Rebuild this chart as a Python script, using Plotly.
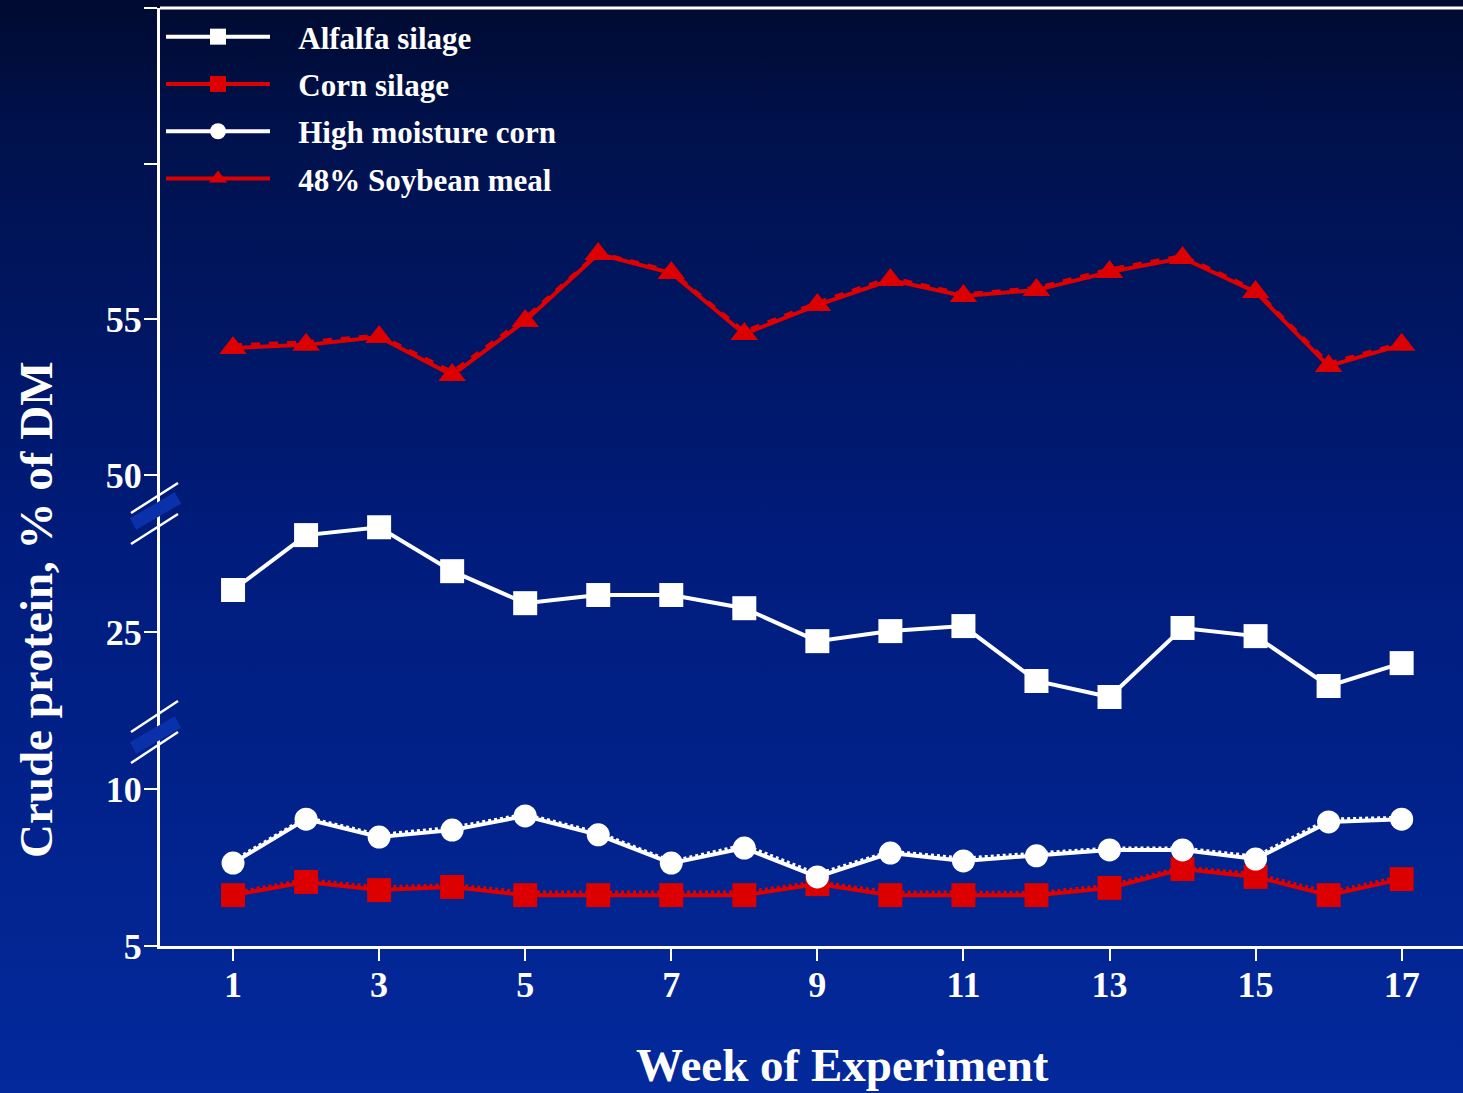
import base64
import plotly.graph_objects as go

# ---------------- data ----------------
weeks = list(range(1, 18))
alfalfa = [26.34, 28.09, 28.34, 26.94, 25.92, 26.18, 26.18, 25.76, 24.71, 25.03, 25.19, 23.44, 22.93, 25.13, 24.87, 23.28, 24.01]
corn_silage = [6.62, 7.04, 6.78, 6.88, 6.62, 6.62, 6.62, 6.62, 6.97, 6.62, 6.62, 6.62, 6.85, 7.45, 7.20, 6.62, 7.13]
corn_silage_2 = [6.70, 7.12, 6.88, 6.96, 6.72, 6.72, 6.72, 6.72, 7.05, 6.72, 6.72, 6.70, 6.94, 7.52, 7.30, 6.72, 7.22]
hmc = [7.64, 9.04, 8.47, 8.69, 9.14, 8.54, 7.64, 8.12, 7.20, 7.96, 7.71, 7.87, 8.06, 8.06, 7.77, 8.95, 9.04]
hmc_2 = [7.72, 9.10, 8.55, 8.78, 9.20, 8.62, 7.70, 8.22, 7.30, 8.02, 7.80, 7.96, 8.12, 8.12, 7.86, 9.04, 9.10]
soybean = [54.08, 54.18, 54.43, 53.21, 54.95, 57.10, 56.49, 54.53, 55.46, 56.26, 55.75, 55.94, 56.52, 56.97, 55.88, 53.50, 54.18]
soybean_2 = [54.18, 54.28, 54.50, 53.32, 55.05, 57.15, 56.55, 54.62, 55.55, 56.35, 55.82, 56.02, 56.62, 57.05, 55.95, 53.60, 54.25]

series_names = ["Alfalfa silage", "Corn silage", "High moisture corn", "48% Soybean meal"]
x_title = "Week of Experiment"
y_title = "Crude protein, % of DM"

x_ticks = [1, 3, 5, 7, 9, 11, 13, 15, 17]
y_low_ticks = [5, 10]
y_mid_ticks = [25]
y_top_ticks = [50, 55, 60, 65]
y_top_labels = ["50", "55", "", ""]

RED = "#dc0000"
WHITE = "#ffffff"
FONT = "Liberation Serif"
PAD = "\u00a0\u00a0\u00a0"

# ---------------- layout geometry ----------------
W, H = 1463, 1093
ML, MR, MT, MB = 160, 0, 8, 147
PW, PH = W - ML - MR, H - MT - MB

def px_x(px):
    return (px - ML) / PW

def px_y(py):
    return (H - MB - py) / PH

d_low = [0, px_y(729)]
d_mid = [px_y(729), px_y(510)]
d_top = [px_y(510), 1]

fig = go.Figure()

# secondary (dotted / dashed) lines, drawn first
fig.add_trace(go.Scatter(x=weeks, y=corn_silage_2, yaxis="y", mode="lines",
                         line=dict(color=RED, width=3, dash="dot"), showlegend=False,
                         hoverinfo="skip", cliponaxis=False))
fig.add_trace(go.Scatter(x=weeks, y=hmc_2, yaxis="y", mode="lines",
                         line=dict(color=WHITE, width=3, dash="dot"), showlegend=False,
                         hoverinfo="skip", cliponaxis=False))
fig.add_trace(go.Scatter(x=weeks, y=soybean_2, yaxis="y3", mode="lines",
                         line=dict(color=RED, width=3, dash="dash"), showlegend=False,
                         hoverinfo="skip", cliponaxis=False))

fig.add_trace(go.Scatter(x=weeks, y=alfalfa, yaxis="y2", name=PAD + series_names[0],
                         legendgroup="a", mode="lines+markers",
                         line=dict(color=WHITE, width=4),
                         marker=dict(symbol="square", size=24, color=WHITE),
                         cliponaxis=False))
fig.add_trace(go.Scatter(x=weeks, y=corn_silage, yaxis="y", name=PAD + series_names[1],
                         legendgroup="b", mode="lines+markers",
                         line=dict(color=RED, width=4),
                         marker=dict(symbol="square", size=24, color=RED),
                         cliponaxis=False))
fig.add_trace(go.Scatter(x=weeks, y=hmc, yaxis="y", name=PAD + series_names[2],
                         legendgroup="c", mode="lines+markers",
                         line=dict(color=WHITE, width=4),
                         marker=dict(symbol="circle", size=23, color=WHITE),
                         cliponaxis=False))
fig.add_trace(go.Scatter(x=weeks, y=soybean, yaxis="y3", name=PAD + series_names[3],
                         legendgroup="d", mode="lines+markers",
                         line=dict(color=RED, width=4),
                         marker=dict(symbol="triangle-up", size=24, color=RED),
                         cliponaxis=False))

# background gradient
svg = (f"<svg xmlns='http://www.w3.org/2000/svg' width='{W}' height='{H}' "
       f"viewBox='0 0 {W} {H}' preserveAspectRatio='none'>"
       "<defs><linearGradient id='g' x1='0' y1='0' x2='0' y2='1'>"
       "<stop offset='0' stop-color='#000a30'/>"
       "<stop offset='0.12' stop-color='#00114c'/>"
       "<stop offset='0.5' stop-color='#001c7c'/>"
       "<stop offset='1' stop-color='#03299c'/>"
       "</linearGradient></defs>"
       f"<rect x='0' y='0' width='{W}' height='{H}' fill='url(#g)'/></svg>")
src = "data:image/svg+xml;base64," + base64.b64encode(svg.encode()).decode()

TICKFONT = dict(family=FONT, size=36, color=WHITE, weight="bold")
TITLEFONT = dict(family=FONT, size=47, color=WHITE, weight="bold")

axis_common = dict(showgrid=False, zeroline=False, showline=True, linecolor=WHITE,
                   linewidth=3, ticks="outside", ticklen=13, tickwidth=2,
                   tickcolor=WHITE, tickfont=TICKFONT, ticklabelstandoff=-5,
                   anchor="x")

shapes = [
    # top frame line
    dict(type="line", xref="paper", yref="paper", x0=0, x1=1, y0=1, y1=1,
         line=dict(color=WHITE, width=3), layer="above"),
]
# axis break marks
for (yb, ys) in [(524, 498), (748, 722)]:
    shapes.append(dict(type="line", xref="paper", yref="paper",
                       x0=px_x(133), y0=px_y(yb), x1=px_x(178), y1=px_y(ys),
                       line=dict(color="#0a30aa", width=13), layer="above"))
for (ya, yb) in [(513, 483), (544, 514), (732, 701), (763, 732)]:
    shapes.append(dict(type="line", xref="paper", yref="paper",
                       x0=px_x(131), y0=px_y(ya), x1=px_x(178), y1=px_y(yb),
                       line=dict(color=WHITE, width=2.5), layer="above"))

annotations = [
    dict(text=x_title, xref="paper", yref="paper", x=px_x(842), y=px_y(1092),
         xanchor="center", yanchor="bottom", showarrow=False, font=TITLEFONT,
         borderpad=0),
    dict(text=y_title, xref="paper", yref="paper", x=px_x(36), y=px_y(610),
         xanchor="center", yanchor="middle", showarrow=False, textangle=-90,
         font=TITLEFONT),
]

fig.update_layout(
    width=W, height=H,
    margin=dict(l=ML, r=MR, t=MT, b=MB),
    paper_bgcolor="#001c7c",
    plot_bgcolor="rgba(0,0,0,0)",
    font=dict(family=FONT, color=WHITE, weight="bold"),
    images=[dict(source=src, xref="paper", yref="paper",
                 x=-ML / PW, y=1 + MT / PH, sizex=W / PW, sizey=H / PH,
                 xanchor="left", yanchor="top", sizing="stretch", layer="below")],
    xaxis=dict(range=[0, 17.84], tickvals=x_ticks, showgrid=False, zeroline=False,
               showline=True, linecolor=WHITE, linewidth=3, ticks="outside",
               ticklen=12, tickwidth=2, tickcolor=WHITE, tickfont=TICKFONT,
               ticklabelstandoff=-7, anchor="y"),
    yaxis=dict(domain=d_low, range=[5, 11.91], tickvals=y_low_ticks, **axis_common),
    yaxis2=dict(domain=d_mid, range=[21.91, 28.89], tickvals=y_mid_ticks, **axis_common),
    yaxis3=dict(domain=d_top, range=[48.876, 65.0], tickvals=y_top_ticks,
                ticktext=y_top_labels, **axis_common),
    legend=dict(x=px_x(161), y=px_y(10), xanchor="left", yanchor="top",
                bgcolor="rgba(0,0,0,0)", traceorder="grouped", tracegroupgap=4,
                itemwidth=104,
                font=dict(family=FONT, size=31, color=WHITE, weight="bold")),
    annotations=annotations,
    shapes=shapes,
    showlegend=True,
)

fig.write_html("out.html", config={"displayModeBar": False},
               post_script="document.body.style.margin='0px';document.body.style.background='#03299c';")
